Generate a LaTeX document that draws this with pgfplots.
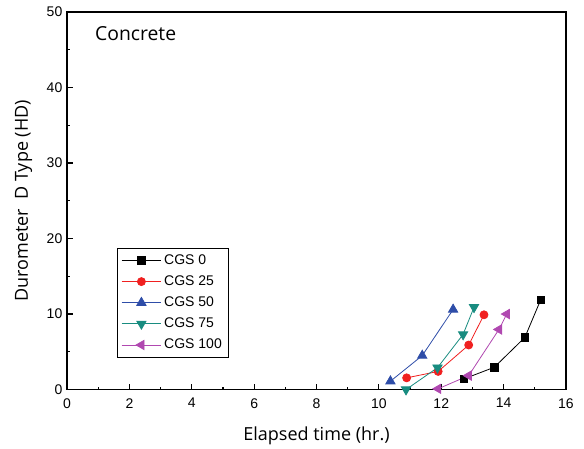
\documentclass[border=0pt]{standalone}
\usepackage{fontspec}
\setmainfont{Liberation Sans}
\newfontfamily\labfont{Open Sans}
\usepackage{pgfplots}
\pgfplotsset{compat=1.18}
\definecolor{cblue}{HTML}{2E4DA8}
\definecolor{cred}{HTML}{F02020}
\definecolor{cteal}{HTML}{188C80}
\definecolor{cmag}{HTML}{B048B0}
\begin{document}
\begin{tikzpicture}
\begin{axis}[name=ax,
  scale only axis, width=374pt, height=283pt,
  xmin=0, xmax=16, ymin=0, ymax=50,
  xtick={0,2,...,16}, ytick={0,10,...,50},
  minor xtick={1,3,...,15}, minor ytick={5,15,...,45},
  tick align=inside,
  tick style={black, line width=0.9pt},
  major tick length=4.5pt, minor tick length=2.2pt,
  xtick pos=bottom, ytick pos=left,
  axis line style={line width=0.9pt},
  /pgf/number format/assume math mode=true,
  tick label style={font=\fontsize{10.5}{12}\selectfont},
  xticklabel style={yshift=-3pt},
  xlabel={\labfont Elapsed time (hr.)},
  ylabel={\labfont Durometer\ \ D Type (HD)},
  label style={font=\fontsize{13.5}{15}\selectfont},
  xlabel style={yshift=-7pt},
  ylabel style={yshift=4pt},
  legend style={at={(axis cs:1.6,18.8)}, anchor=north west, draw=black, line width=0.5pt,
    font=\fontsize{10.5}{12}\selectfont, row sep=3pt, inner sep=3pt},
  legend cell align=left,
  legend image code/.code={\draw[mark repeat=2,mark phase=2,#1] plot coordinates {(0cm,0cm) (0.52cm,0cm) (1.04cm,0cm)};},
  every axis plot/.append style={line width=0.6pt, mark size=3.2pt},
]
\addplot[black, mark=square*, mark options={solid, mark size=2.8pt}] coordinates {(12.72,1.4) (13.7,2.95) (14.68,6.9) (15.19,11.9)};
\addlegendentry{CGS 0}
\addplot[cred, mark=*, mark options={mark size=3pt}] coordinates {(10.89,1.55) (11.9,2.4) (12.88,5.9) (13.37,9.9)};
\addlegendentry{CGS 25}
\addplot[cblue, mark=triangle*, mark options={mark size=4pt}] coordinates {(10.37,1.1) (11.39,4.5) (12.38,10.6)};
\addlegendentry{CGS 50}
\addplot[cteal, mark=triangle*, mark options={rotate=180, mark size=4pt}] coordinates {(10.87,0) (11.88,2.9) (12.7,7.3) (13.05,10.9)};
\addlegendentry{CGS 75}
\addplot[cmag, mark=triangle*, mark options={rotate=90, mark size=4pt}] coordinates {(11.9,0.1) (12.88,1.85) (13.85,7.96) (14.1,10)};
\addlegendentry{CGS 100}
\node[anchor=west, font=\labfont\fontsize{14.5}{16}\selectfont] at (axis cs:0.75,47.2) {Concrete};
\end{axis}
\draw[line width=0.3pt] (ax.north west) -- (ax.north east) -- (ax.south east);
\pgfresetboundingbox
\path (ax.south west) ++(-50.25pt,-44.25pt) coordinate (bl);
\path (ax.north east) ++(13.5pt,9pt) coordinate (tr);
\path (bl) rectangle (tr);
\end{tikzpicture}
\end{document}
